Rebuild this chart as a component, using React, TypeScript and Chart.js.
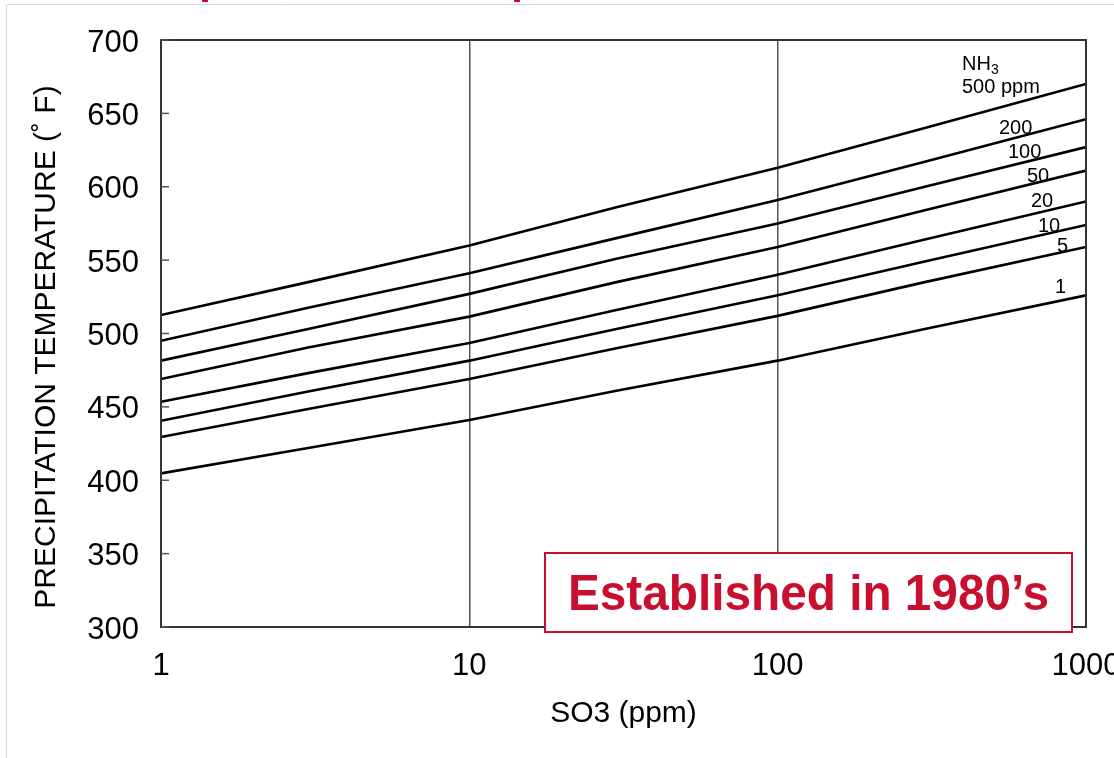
import React, { useEffect, useRef } from "react";
import { Chart, registerables } from "chart.js";

Chart.register(...registerables);

// ---- data ----
const SO3_PPM = [1, 3, 10, 30, 100, 300, 1000];
const NH3_500 = [512.6, 535, 560, 586, 613, 640, 670];
const NH3_200 = [495, 517.5, 541, 565, 591, 617, 646];
const NH3_100 = [481.5, 503, 527, 551, 575, 600, 627];
const NH3_50 = [469, 490.5, 511.5, 535, 559, 584, 611];
const NH3_20 = [453.5, 473, 493.5, 516, 540, 564, 590];
const NH3_10 = [440.5, 460.5, 481.5, 503, 526, 549, 574];
const NH3_5 = [429.5, 448.5, 469, 490, 512, 535, 559];
const NH3_1 = [404.7, 422, 441, 461, 481.5, 503, 526];

const SERIES_NAMES = ["500", "200", "100", "50", "20", "10", "5", "1"];
const SERIES_VALUES = [NH3_500, NH3_200, NH3_100, NH3_50, NH3_20, NH3_10, NH3_5, NH3_1];

const X_TICKS = [1, 10, 100, 1000];
const X_TICK_LABELS = ["1", "10", "100", "1000"];
const Y_TICKS = [300, 350, 400, 450, 500, 550, 600, 650, 700];
const Y_TICK_LABELS = ["300", "350", "400", "450", "500", "550", "600", "650", "700"];

const X_TITLE = "SO3 (ppm)";
const Y_TITLE = "PRECIPITATION TEMPERATURE (˚ F)";
const BADGE_TEXT = "Established in 1980’s";

// curve label placements (pixel anchors: left x, baseline y)
const CURVE_LABELS = [
  { text: "500 ppm", x: 962, y: 93 },
  { text: "200", x: 999, y: 134 },
  { text: "100", x: 1008, y: 158 },
  { text: "50", x: 1027, y: 182 },
  { text: "20", x: 1031, y: 207 },
  { text: "10", x: 1038, y: 232 },
  { text: "5", x: 1057, y: 252 },
  { text: "1", x: 1055, y: 293 },
];

const FONT = "'Liberation Sans', Arial, Helvetica, sans-serif";
const RED = "#c8102e";

const decorPlugin = {
  id: "decor",
  beforeDraw(chart: any) {
    const ctx = chart.ctx;
    ctx.save();
    ctx.fillStyle = "#ffffff";
    ctx.fillRect(0, 0, chart.width, chart.height);
    // faint slide frame
    ctx.strokeStyle = "#d9d9d9";
    ctx.lineWidth = 1;
    ctx.beginPath();
    ctx.moveTo(6.5, chart.height);
    ctx.lineTo(6.5, 4.5);
    ctx.lineTo(chart.width, 4.5);
    ctx.stroke();
    // cut-off title fragments
    ctx.fillStyle = RED;
    ctx.fillRect(202, 0, 6, 2);
    ctx.fillRect(514, 0, 6, 2);
    ctx.restore();
  },
  afterDatasetsDraw(chart: any) {
    const ctx = chart.ctx;
    const { left, right, top, bottom } = chart.chartArea;
    const xs = chart.scales.x;
    const ys = chart.scales.y;
    ctx.save();
    // plot frame
    ctx.strokeStyle = "#333333";
    ctx.lineWidth = 2;
    ctx.strokeRect(left, top, right - left, bottom - top);
    // inner y tick marks
    ctx.strokeStyle = "#555555";
    ctx.lineWidth = 1.5;
    Y_TICKS.forEach((v) => {
      const py = ys.getPixelForValue(v);
      ctx.beginPath();
      ctx.moveTo(left, py);
      ctx.lineTo(left + 8, py);
      ctx.stroke();
    });
    // y tick labels
    ctx.fillStyle = "#000000";
    ctx.font = `31px ${FONT}`;
    ctx.textAlign = "right";
    ctx.textBaseline = "alphabetic";
    Y_TICKS.forEach((v, i) => {
      const py = ys.getPixelForValue(v);
      ctx.fillText(Y_TICK_LABELS[i], 139, py + 11.5);
    });
    // x tick labels
    ctx.textAlign = "center";
    X_TICKS.forEach((v, i) => {
      const px = xs.getPixelForValue(v);
      ctx.fillText(X_TICK_LABELS[i], px, 675);
    });
    // x title
    ctx.font = `30px ${FONT}`;
    ctx.fillText(X_TITLE, (left + right) / 2, 722);
    // y title
    ctx.save();
    ctx.translate(55, 347);
    ctx.rotate(-Math.PI / 2);
    ctx.textAlign = "center";
    ctx.fillText(Y_TITLE, 0, 0);
    ctx.restore();
    // curve labels
    ctx.font = `20px ${FONT}`;
    ctx.textAlign = "left";
    ctx.fillText("NH", 962, 70);
    const nhW = ctx.measureText("NH").width;
    ctx.font = `14px ${FONT}`;
    ctx.fillText("3", 962 + nhW, 74);
    ctx.font = `20px ${FONT}`;
    CURVE_LABELS.forEach((l) => ctx.fillText(l.text, l.x, l.y));
    // badge
    const bx = 545, by = 553, bw = 527, bh = 79;
    ctx.fillStyle = "#ffffff";
    ctx.fillRect(bx, by, bw, bh);
    ctx.strokeStyle = RED;
    ctx.lineWidth = 2;
    ctx.strokeRect(bx, by, bw, bh);
    ctx.fillStyle = RED;
    ctx.font = `bold 50px ${FONT}`;
    const tw = ctx.measureText(BADGE_TEXT).width;
    const targetW = 481;
    ctx.save();
    ctx.translate(bx + bw / 2, 610);
    ctx.scale(targetW / tw, 1);
    ctx.textAlign = "center";
    ctx.fillText(BADGE_TEXT, 0, 0);
    ctx.restore();
    ctx.restore();
  },
};

export default function App() {
  const ref = useRef<HTMLCanvasElement | null>(null);

  useEffect(() => {
    if (!ref.current) return;
    const datasets = SERIES_VALUES.map((vals, i) => ({
      label: SERIES_NAMES[i],
      data: SO3_PPM.map((x, j) => ({ x, y: vals[j] })),
      borderColor: "#000000",
      borderWidth: 2.6,
      pointRadius: 0,
      tension: 0,
      fill: false,
    }));
    const chart = new Chart(ref.current, {
      type: "line",
      data: { datasets },
      options: {
        animation: false,
        responsive: false,
        maintainAspectRatio: false,
        layout: { padding: { left: 161, right: 28, top: 40, bottom: 131 } },
        plugins: { legend: { display: false }, tooltip: { enabled: false } },
        scales: {
          x: {
            type: "logarithmic",
            min: 1,
            max: 1000,
            afterBuildTicks: (scale: any) => {
              scale.ticks = X_TICKS.map((v) => ({ value: v }));
            },
            ticks: { display: false },
            border: { display: false },
            grid: {
              display: true,
              drawTicks: false,
              lineWidth: 1.5,
              color: (c: any) =>
                c.tick && (c.tick.value === 10 || c.tick.value === 100) ? "#555555" : "rgba(0,0,0,0)",
            },
          },
          y: {
            type: "linear",
            min: 300,
            max: 700,
            ticks: { display: false, stepSize: 50 },
            border: { display: false },
            grid: { display: false, drawTicks: false },
          },
        },
      },
      plugins: [decorPlugin],
    });
    return () => chart.destroy();
  }, []);

  return (
    <div style={{ position: "absolute", left: 0, top: 0, width: 1114, height: 758 }}>
      <canvas ref={ref} width={1114} height={758} style={{ display: "block", width: 1114, height: 758 }} />
    </div>
  );
}
